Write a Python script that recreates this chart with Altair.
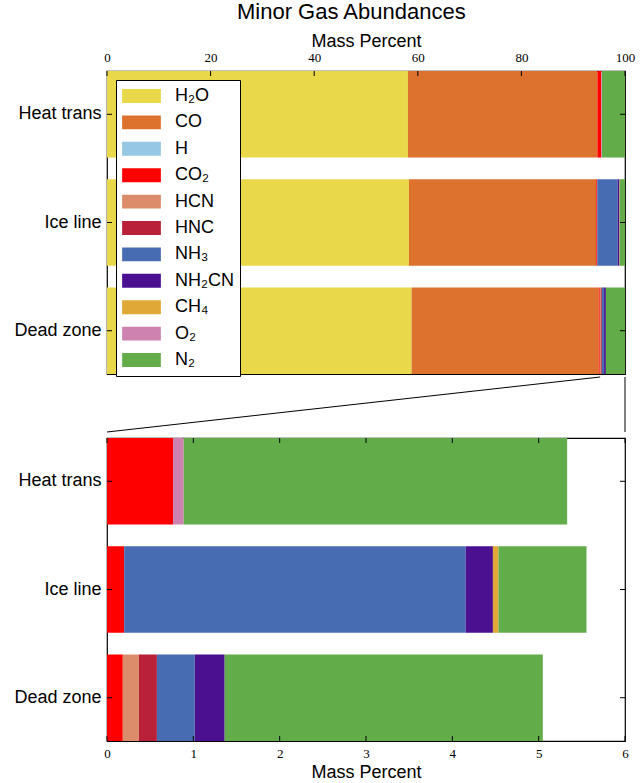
import altair as alt
import pandas as pd

# ---------------- data ----------------
locations = ["Heat trans", "Ice line", "Dead zone"]
species = ["H₂O", "CO", "H", "CO₂", "HCN", "HNC", "NH₃", "NH₂CN", "CH₄", "O₂", "N₂"]
colors = ["#e8d84a", "#dd722e", "#96c8e4", "#ff0000", "#dc8c6a", "#b82138",
          "#476cb2", "#4a1090", "#e0a836", "#cd82b0", "#62ac4a"]

# mass percent of each species (same order as `species`)
heat_trans = [58.10, 36.57, 0.0, 0.765, 0.0, 0.0, 0.0, 0.0, 0.0, 0.123, 4.442]
ice_line = [58.30, 36.15, 0.0, 0.199, 0.0, 0.0, 3.956, 0.315, 0.064, 0.0, 1.020]
dead_zone = [58.80, 36.15, 0.0, 0.183, 0.187, 0.208, 0.438, 0.347, 0.0, 0.0, 3.685]

minor_species = species[2:]

top_ticks = [0, 20, 40, 60, 80, 100]
bottom_ticks = [0, 1, 2, 3, 4, 5, 6]

# zoom connector: top-panel range -> bottom-panel range
zoom_from = [95.2, 100.0]
zoom_to = [0.0, 6.0]

# ---------------- tables ----------------
rows = []
for loc, vals in zip(locations, [heat_trans, ice_line, dead_zone]):
    for i, (sp, v) in enumerate(zip(species, vals)):
        rows.append({"location": loc, "species": sp, "value": v, "idx": i})
df = pd.DataFrame(rows)
df_minor = df[df["species"].isin(minor_species)]

SANS = "Liberation Sans"
SERIF = "Liberation Serif"
W, H = 518, 303

yscale = alt.Scale(domain=locations, paddingInner=0.2, paddingOuter=0)
color_scale = alt.Scale(domain=species, range=colors)
rect_path = "M-1,-0.36L1,-0.36L1,0.36L-1,0.36Z"


def y_ticks(width):
    tdf = pd.DataFrame({"location": locations})
    left = alt.Chart(tdf).mark_rule(color="black", strokeWidth=1).encode(
        y=alt.Y("location:N", scale=yscale, sort=locations, bandPosition=0.5),
        x=alt.value(0), x2=alt.value(5))
    right = alt.Chart(tdf).mark_rule(color="black", strokeWidth=1).encode(
        y=alt.Y("location:N", scale=yscale, sort=locations, bandPosition=0.5),
        x=alt.value(width - 5), x2=alt.value(width))
    return [left, right]


def x_ticks(values, domain, top=True, bottom=False):
    tdf = pd.DataFrame({"value": values})
    out = []
    xs = alt.X("value:Q", scale=alt.Scale(domain=domain, nice=False, zero=False))
    if top:
        out.append(alt.Chart(tdf).mark_rule(color="black", strokeWidth=1).encode(
            x=xs, y=alt.value(0), y2=alt.value(5)))
    if bottom:
        out.append(alt.Chart(tdf).mark_rule(color="black", strokeWidth=1).encode(
            x=xs, y=alt.value(H - 5), y2=alt.value(H)))
    return out


y_axis = alt.Axis(title=None, ticks=False, domain=False, tickSize=0, labelFont=SANS,
                  labelFontSize=18, labelColor="black", labelPadding=6)

# ---------------- top panel ----------------
top_bars = alt.Chart(df).mark_bar().encode(
    x=alt.X("value:Q", stack="zero",
            scale=alt.Scale(domain=[0, 100], nice=False, zero=False),
            axis=alt.Axis(orient="top", values=top_ticks, format="d", title="Mass Percent",
                          ticks=False, tickSize=0, domain=False, grid=False, labelFont=SERIF,
                          labelFontSize=13, labelColor="black", labelPadding=7,
                          labelFlush=False, labelOverlap=False,
                          titleFont=SANS, titleFontSize=18, titleFontWeight="normal",
                          titleColor="black", titlePadding=1)),
    y=alt.Y("location:N", scale=yscale, sort=locations, axis=y_axis),
    color=alt.Color("species:N", scale=color_scale, sort=species,
                    legend=alt.Legend(title=None, orient="none", legendX=9, legendY=9,
                                      fillColor="white", strokeColor="black", padding=6,
                                      cornerRadius=0, symbolType=rect_path, symbolSize=1500,
                                      symbolStrokeWidth=0, labelFont=SANS, labelFontSize=18,
                                      labelColor="black", clipHeight=20, rowPadding=6.4,
                                      labelOffset=14)),
    order=alt.Order("idx:Q", sort="ascending"),
)
top = alt.layer(top_bars, *x_ticks(top_ticks, [0, 100], top=True), *y_ticks(W)).properties(
    width=W, height=H)

# ---------------- connector ----------------
conn = pd.DataFrame({
    "top": zoom_from,
    "bottom": [v / zoom_to[1] * 100 for v in zoom_to],
})
mid = alt.Chart(conn).mark_rule(color="black", strokeWidth=1).encode(
    x=alt.X("top:Q", scale=alt.Scale(domain=[0, 100], nice=False), axis=None),
    x2="bottom:Q",
    y=alt.value(0), y2=alt.value(55),
).properties(width=W, height=58, view=alt.ViewBackground(stroke="transparent"))

# ---------------- bottom panel ----------------
bot_bars = alt.Chart(df_minor).mark_bar().encode(
    x=alt.X("value:Q", stack="zero",
            scale=alt.Scale(domain=[0, 6], nice=False, zero=False),
            axis=alt.Axis(orient="bottom", values=bottom_ticks, format="d", title="Mass Percent",
                          ticks=False, tickSize=0, domain=False, grid=False, labelFont=SERIF,
                          labelFontSize=13, labelColor="black", labelPadding=6,
                          labelFlush=False, labelOverlap=False,
                          titleFont=SANS, titleFontSize=18, titleFontWeight="normal",
                          titleColor="black", titlePadding=3)),
    y=alt.Y("location:N", scale=yscale, sort=locations, axis=y_axis),
    color=alt.Color("species:N", scale=color_scale, sort=species, legend=None),
    order=alt.Order("idx:Q", sort="ascending"),
)
bottom = alt.layer(bot_bars, *x_ticks(bottom_ticks, [0, 6], top=True, bottom=True),
                   *y_ticks(W)).properties(width=W, height=H)

chart = alt.vconcat(top, mid, bottom, spacing=0).properties(
    title=alt.TitleParams("Minor Gas Abundances", font=SANS, fontSize=22,
                          fontWeight="normal", color="black", anchor="middle", offset=7,
                          dx=27),
    padding={"left": 13, "top": 1, "right": 8, "bottom": 4},
).configure_view(stroke="black", strokeWidth=1.2).resolve_scale(color="shared")

chart.save("out.html", embed_options={"renderer": "svg", "actions": False})
